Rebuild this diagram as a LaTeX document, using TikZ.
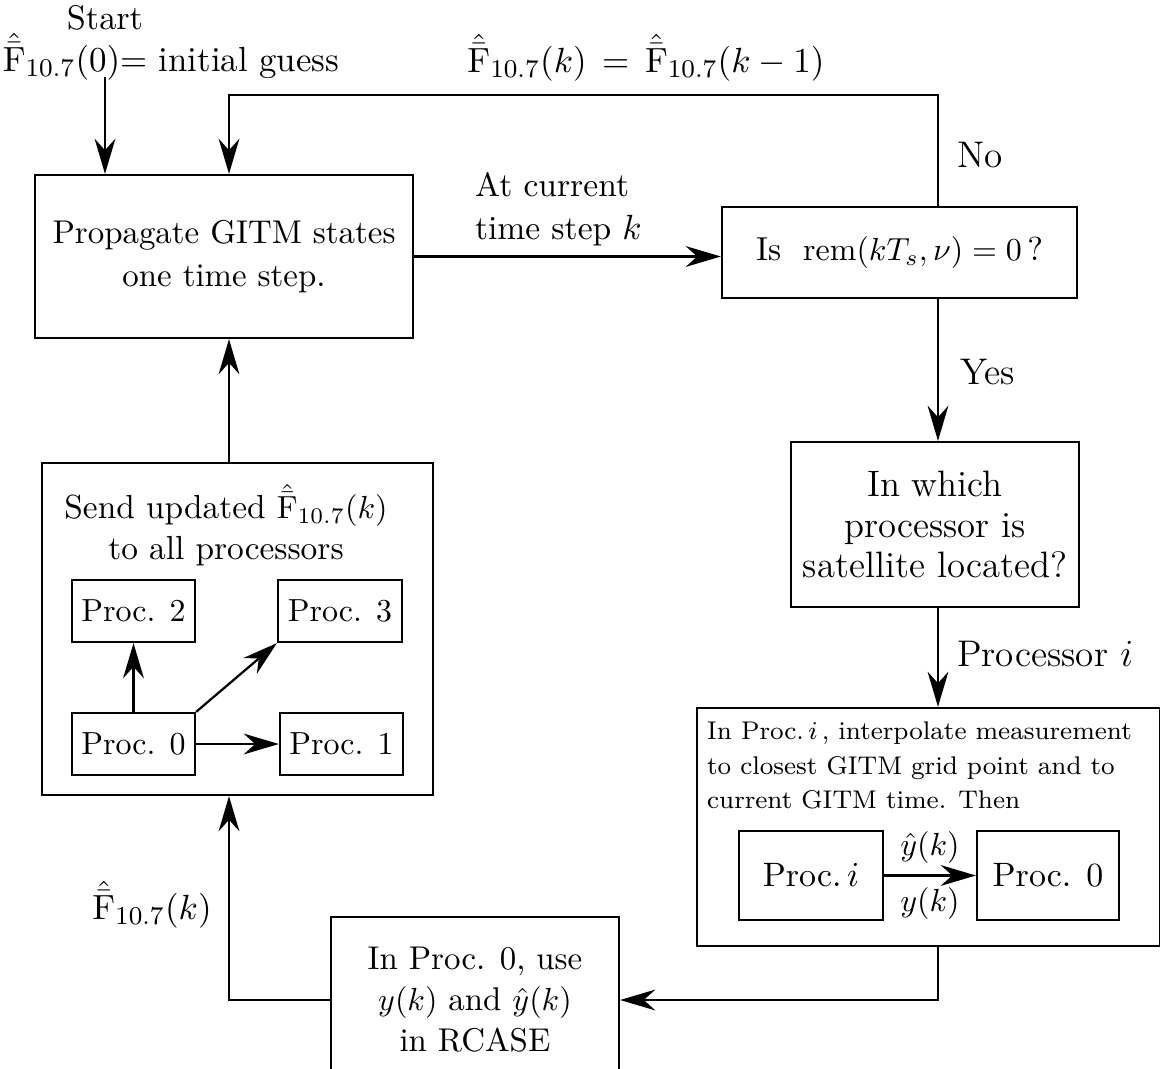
\documentclass[tikz,border=0pt]{standalone}
\usepackage{amsmath}
\usepackage{amssymb}
\usetikzlibrary{arrows.meta}

% estimated F10.7 symbol
\newcommand{\Fest}{\hat{\bar{\mathrm{F}}}_{10.7}}

\begin{document}
\begin{tikzpicture}[x=0.011cm, y=-0.011cm, line width=0.7pt,
    font=\fontsize{10.4}{13}\selectfont,
    >={Stealth[length=11pt, width=6.5pt]},
    blk/.style 2 args={draw, align=center, inner sep=2pt,
      minimum width=#1*0.011cm, minimum height=#2*0.011cm},
    lbl/.style={align=center, inner sep=1pt},
    big/.style={font=\fontsize{11.6}{14}\selectfont},
    proc/.style={font=\fontsize{10}{12}\selectfont}]

  % page size
  \clip (0,0) rectangle (1160,1069);

  % columns of the long connectors
  \coordinate (colR) at (938,0);
  \coordinate (colL) at (229,0);
  \coordinate (loop) at (229,95);
  \coordinate (init) at (105,77);

  % start labels
  \node[lbl, font=\fontsize{10.7}{13}\selectfont] (start) at (105,18) {Start};
  \node[lbl, font=\fontsize{10.9}{13}\selectfont] (guess) at (171,57)
    {$\Fest(0)$= initial guess};

  % main steps
  \node[blk={378}{163}, font=\fontsize{10.3}{13.5}\selectfont] (prop) at (224,256.5)
    {Propagate GITM states\\one time step.};
  \node[blk={355}{91}] (remq) at (899.5,252.5) {Is~ $\mathrm{rem}(kT_s,\nu)=0\,$?};
  \node[blk={288}{165}, font=\fontsize{11.5}{12.8}\selectfont] (where) at (935,524.5)
    {In which\\processor is\\satellite located?};
  \node[blk={463}{238}] (interp) at (928.5,827) {};
  \node[blk={288}{166}, font=\fontsize{10.3}{12.8}\selectfont] (rcase) at (475,1000)
    {In Proc. 0, use\\$y(k)$ and $\hat y(k)$\\in RCASE};
  \node[blk={391}{332}] (send) at (237.5,629) {};

  % text of the interpolation box
  \node[anchor=north west, align=left, inner sep=0pt, font=\fontsize{8}{10.7}\selectfont]
    (interptxt) at (706,721)
    {In Proc.\,$i$\,, interpolate measurement\\
     to closest GITM grid point and to\\
     current GITM time. Then};
  \node[blk={144}{89}, font=\fontsize{10.6}{13}\selectfont] (proci) at (811,875.5) {Proc.\,$i$};
  \node[blk={142}{89}, font=\fontsize{10.6}{13}\selectfont] (proczr) at (1048,875.5) {Proc. 0};
  \draw[->] (proci) -- (proczr)
    node[midway, above] {$\hat y(k)$}
    node[midway, below] {$y(k)$};

  % text and processors of the broadcast box
  \node[anchor=north, lbl, font=\fontsize{10.45}{12.8}\selectfont] (sendtxt) at (226,480)
    {Send updated $\Fest(k)$\\to all processors};
  \node[blk={123}{62}, proc] (ptwo) at (133.5,611) {Proc. 2};
  \node[blk={124}{62}, proc] (pthree) at (340,611) {Proc. 3};
  \node[blk={123}{62}, proc] (pzero) at (133.5,744) {Proc. 0};
  \node[blk={123}{62}, proc] (pone) at (341.5,744) {Proc. 1};
  \draw[->] (pzero) -- (ptwo);
  \draw[->] (pzero.north east) -- (pthree.south west);
  \draw[->] (pzero) -- (pone);

  % flow between the steps
  \draw[->] (init) -- (init |- prop.north);
  \draw[->] (prop.east) -- (prop.east -| remq.west);
  \node[anchor=west, align=left, inner sep=0pt, font=\fontsize{10.5}{13.5}\selectfont]
    (curstep) at (474,209) {At current\\time step $k$};
  \draw[->] (remq.north -| colR) -- (colR |- loop) -- (loop) -- (loop |- prop.north);
  \node[lbl, big] (no) at (980,155) {No};
  \node[lbl, font=\fontsize{10.9}{13}\selectfont] (hold) at (646,58)
    {$\Fest(k)\,=\,\Fest(k-1)$};
  \draw[->] (remq.south -| colR) -- (where.north -| colR);
  \node[anchor=west, inner sep=0pt, big] (yes) at (959,372) {Yes};
  \draw[->] (where.south -| colR) -- (interp.north -| colR);
  \node[anchor=west, inner sep=0pt, big] (procid) at (956,654) {Processor $i$};
  \draw[->] (interp.south -| colR) -- (colR |- rcase.east) -- (rcase.east);
  \draw[->] (rcase.west) -- (rcase.west -| colL) -- (colL |- send.south);
  \node[lbl, font=\fontsize{10.9}{13}\selectfont] (fk) at (152,905) {$\Fest(k)$};
  \draw[->] (send.north -| colL) -- (prop.south -| colL);
\end{tikzpicture}
\end{document}
